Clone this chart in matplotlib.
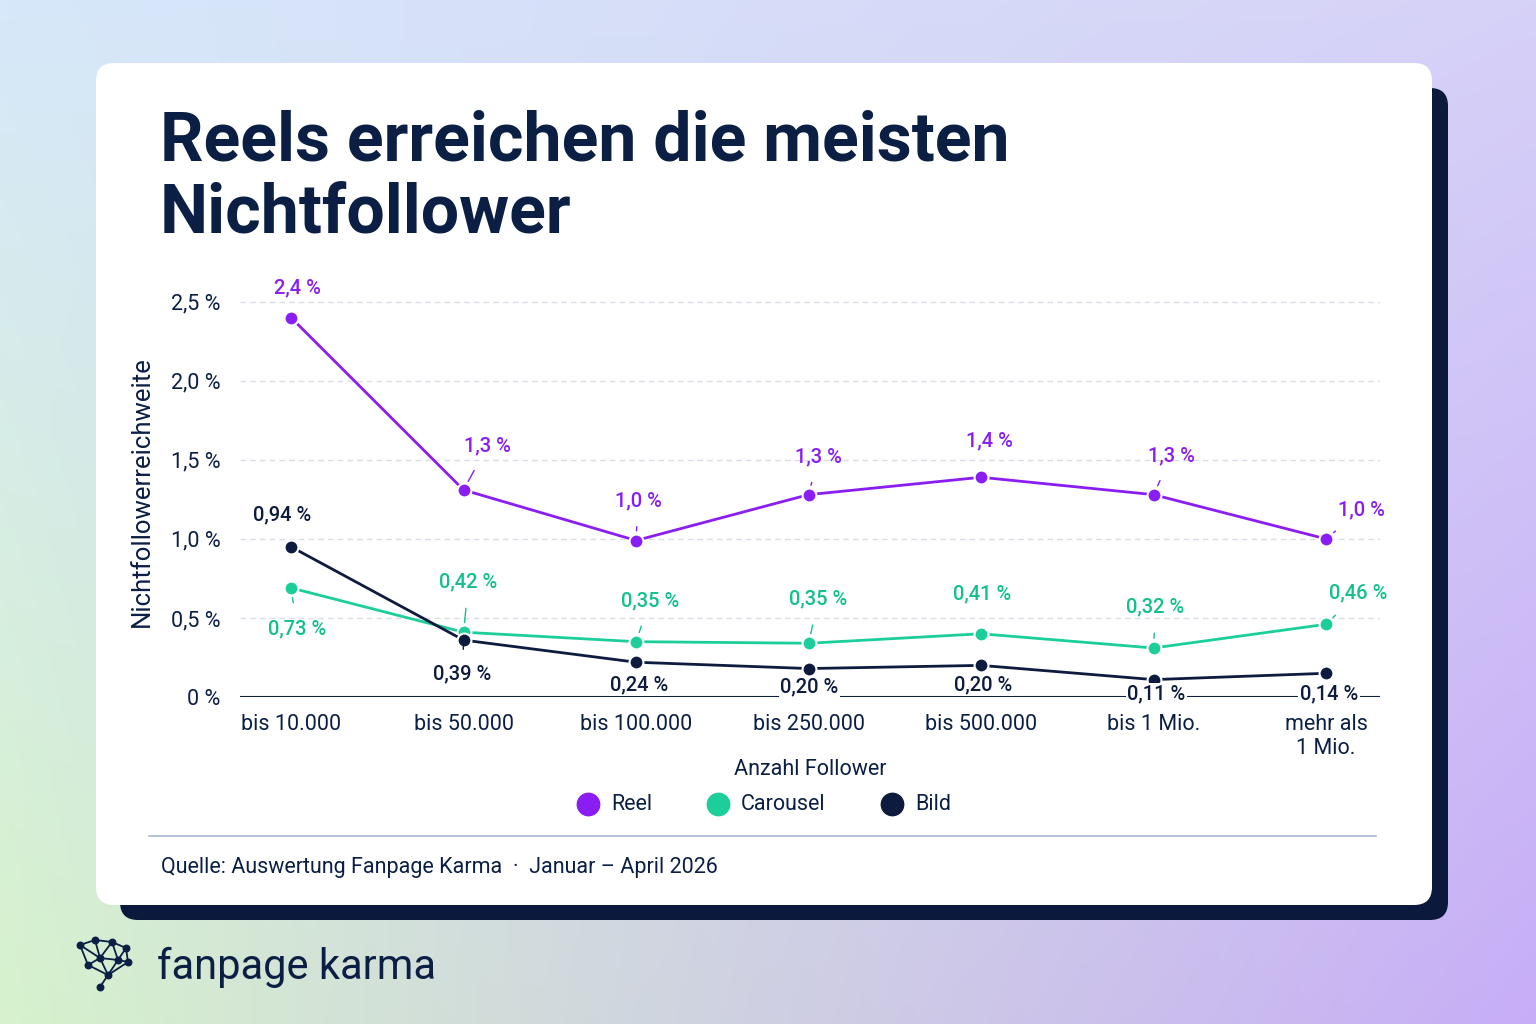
import numpy as np
import matplotlib
matplotlib.use("Agg")
import matplotlib.pyplot as plt
from matplotlib.patches import FancyBboxPatch

categories = ["bis 10.000", "bis 50.000", "bis 100.000", "bis 250.000", "bis 500.000", "bis 1 Mio.", "mehr als\n1 Mio."]
reel = [2.40, 1.31, 0.99, 1.28, 1.39, 1.28, 1.00]
carousel = [0.69, 0.41, 0.35, 0.34, 0.40, 0.31, 0.46]
bild = [0.95, 0.36, 0.22, 0.18, 0.20, 0.11, 0.15]
reel_labels = ["2,4 %", "1,3 %", "1,0 %", "1,3 %", "1,4 %", "1,3 %", "1,0 %"]
carousel_labels = ["0,73 %", "0,42 %", "0,35 %", "0,35 %", "0,41 %", "0,32 %", "0,46 %"]
bild_labels = ["0,94 %", "0,39 %", "0,24 %", "0,20 %", "0,20 %", "0,11 %", "0,14 %"]
yticks = [0, 0.5, 1.0, 1.5, 2.0, 2.5]
ytick_labels = ["0 %", "0,5 %", "1,0 %", "1,5 %", "2,0 %", "2,5 %"]

plt.rcParams['font.family'] = ['Roboto', 'DejaVu Sans']
W, H = 1536, 1024
fig = plt.figure(figsize=(W/100, H/100), dpi=100)

# background
bg = fig.add_axes([0, 0, 1, 1])
yy, xx = np.mgrid[0:1:200j, 0:1:300j]
c_tl = np.array([0.84, 0.91, 0.98]); c_tr = np.array([0.84, 0.82, 0.97])
c_bl = np.array([0.84, 0.95, 0.80]); c_br = np.array([0.78, 0.68, 0.97])
img = ((1-xx)[..., None]*(1-yy)[..., None]*c_tl + xx[..., None]*(1-yy)[..., None]*c_tr
       + (1-xx)[..., None]*yy[..., None]*c_bl + xx[..., None]*yy[..., None]*c_br)
bg.imshow(img, extent=[0, W, H, 0], aspect='auto')
bg.set_xlim(0, W); bg.set_ylim(H, 0); bg.axis('off')
bg.add_patch(FancyBboxPatch((120, 88), 1328, 832, boxstyle="round,pad=0,rounding_size=18", fc="#0b1a3c", ec="none"))
bg.add_patch(FancyBboxPatch((96, 63), 1336, 842, boxstyle="round,pad=0,rounding_size=18", fc="white", ec="none"))
bg.plot([149, 1376], [836, 836], color="#a9b8d6", lw=1.2)
navy = "#0b1f45"
bg.text(160, 178, "Reels erreichen die meisten\nNichtfollower", fontsize=49, fontweight='bold', color=navy,
        va='center', ha='left', linespacing=1.12)
bg.text(161, 867, "Quelle: Auswertung Fanpage Karma  ·  Januar – April 2026", fontsize=15.5, color=navy, va='center')
bg.text(157, 967, "fanpage karma", fontsize=30, color=navy, va='center')
# logo icon
nodes = np.array([[80, 945], [95, 940], [112, 942], [126, 948], [100, 958], [118, 960], [88, 965], [108, 975], [100, 987], [128, 962]])
for i in range(len(nodes)):
    for j in range(i+1, len(nodes)):
        if np.hypot(*(nodes[i]-nodes[j])) < 24:
            bg.plot(*zip(nodes[i], nodes[j]), color=navy, lw=1.3)
bg.scatter(nodes[:, 0], nodes[:, 1], s=22, color=navy, zorder=3)

# chart axes: pixel box x 240..1380, y 286..697
ax = fig.add_axes([240/W, 1-697/H, 1140/W, 411/H])
ax.set_ylim(0, 2.6)
x = np.arange(len(categories))
ax.set_xlim(-0.296, 6.313)
for t in yticks[1:]:
    ax.axhline(t, color="#d9dde6", lw=1, ls=(0, (4, 3)), zorder=0)
ax.axhline(0, color=navy, lw=1.5, zorder=1)
for s in ax.spines.values():
    s.set_visible(False)
ax.set_yticks(yticks); ax.set_yticklabels(ytick_labels, fontsize=15.5, color=navy)
ax.set_xticks(x); ax.set_xticklabels(categories, fontsize=15.5, color=navy, linespacing=1.2)
ax.tick_params(length=0, pad=12)
ax.tick_params(axis='y', pad=14)
ax.set_xlabel("Anzahl Follower", fontsize=15.5, color=navy, labelpad=0)
ax.set_ylabel("Nichtfollowerreichweite", fontsize=18.5, color=navy, labelpad=12)
ax.patch.set_alpha(0)

c_reel, c_car, c_bild = "#8a1ef2", "#1ccf9a", "#0d1b3e"
ax.plot(x, reel, color=c_reel, lw=2, marker='o', ms=10, mec='white', mew=1.5, zorder=4)
ax.plot(x, carousel, color=c_car, lw=2, marker='o', ms=10, mec='white', mew=1.5, zorder=3)
ax.plot(x, bild, color=c_bild, lw=2, marker='o', ms=10, mec='white', mew=1.5, zorder=3)

reel_off = [(6, 30, 0), (24, 44, 1), (2, 40, 1), (10, 38, 1), (8, 36, 0), (18, 39, 1), (35, 29, 1)]
car_off = [(6, -41, 1), (5, 50, 1), (14, 41, 1), (10, 44, 1), (1, 40, 0), (2, 41, 1), (32, 31, 1)]
bild_off = [(-9, 32, 0), (-1, -34, 1), (3, -23, 0), (1, -18, 0), (2, -20, 0), (3, -14, 0), (3, -21, 0)]

def lab(vals, labels, offs, col, bbox=False):
    for xi, v, t, (dx, dy, ln) in zip(x, vals, labels, offs):
        kw = dict(arrowprops=dict(arrowstyle='-', color=col, lw=1, shrinkA=10, shrinkB=7)) if ln else {}
        ax.annotate(t, (xi, v), xytext=(dx*0.72, dy*0.72), textcoords='offset points', ha='center', va='center',
                    fontsize=14.5, color=col, fontweight='medium', zorder=6,
                    bbox=dict(fc='white', ec='none', pad=1) if bbox else None, **kw)

lab(reel, reel_labels, reel_off, c_reel)
lab(carousel, carousel_labels, car_off, "#12c08e")
lab(bild, bild_labels, bild_off, c_bild, bbox=True)

# legend
for px, col, t in [(588, c_reel, "Reel"), (718, c_car, "Carousel"), (892, c_bild, "Bild")]:
    bg.scatter([px], [804], s=260, color=col, zorder=3)
    bg.text(px+23, 805, t, fontsize=15.5, color=navy, va='center')

fig.savefig("out.png", dpi=100)
